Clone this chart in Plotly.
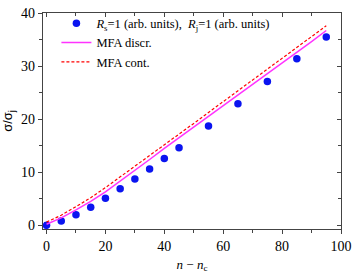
import plotly.graph_objects as go

# data
x_pts = [0, 5, 10, 15, 20, 25, 30, 35, 40, 45, 55, 65, 75, 85, 95]
y_pts = [0.0, 0.8, 2.0, 3.4, 5.1, 6.9, 8.7, 10.6, 12.6, 14.6, 18.7, 22.9, 27.1, 31.4, 35.5]

x_line = [0, 5, 10, 15, 20, 25, 30, 35, 40, 50, 60, 70, 80, 90, 95]
y_discr = [0.2, 1.4, 2.9, 4.5, 6.3, 8.3, 10.3, 12.4, 14.5, 18.5, 22.6, 26.6, 30.6, 34.6, 36.7]
y_cont = [0.6, 1.9, 3.5, 5.2, 7.1, 9.1, 11.1, 13.1, 15.2, 19.2, 23.3, 27.4, 31.4, 35.5, 37.6]

x_ticks = [0, 20, 40, 60, 80, 100]
y_ticks = [0, 10, 20, 30, 40]

serif = "Liberation Serif"
axis_col = "#444444"

fig = go.Figure()
fig.add_trace(go.Scatter(
    x=x_pts, y=y_pts, mode="markers",
    marker=dict(color="#0a14f0", size=7.5),
    name="<i>R</i><sub>s</sub>=1 (arb. units),  <i>R</i><sub>j</sub>=1 (arb. units)"))
fig.add_trace(go.Scatter(
    x=x_line, y=y_discr, mode="lines", line=dict(color="#ff33ff", width=1.5),
    name="MFA discr."))
fig.add_trace(go.Scatter(
    x=x_line, y=y_cont, mode="lines", line=dict(color="#ff0000", width=1.2, dash="3px,2px"),
    name="MFA cont."))
# invisible trace to anchor mirrored axes
fig.add_trace(go.Scatter(x=[50], y=[20], xaxis="x2", yaxis="y2", mode="markers",
                         marker=dict(opacity=0), showlegend=False, hoverinfo="skip"))

common = dict(showgrid=False, zeroline=False, showline=True, linecolor=axis_col, linewidth=1.3,
              tickcolor=axis_col, ticklen=4, tickwidth=1, automargin=False,
              tickfont=dict(family=serif, size=14, color="black"))
fig.update_layout(
    template="none",
    width=353, height=276,
    margin=dict(l=43, r=12, t=9, b=47),
    paper_bgcolor="white", plot_bgcolor="white",
    font=dict(family=serif, size=13, color="black"),
    showlegend=True,
    legend=dict(x=0.045, y=1.02, xanchor="left", yanchor="top", bgcolor="rgba(0,0,0,0)",
                font=dict(family=serif, size=12.5, color="black"), itemwidth=30, tracegroupgap=0),
    xaxis=dict(range=[-1.2, 100], tickvals=x_ticks, ticks="outside",
               minor=dict(dtick=10, ticks="outside", ticklen=2.5, tickcolor=axis_col),
               title=dict(text="<i>n</i> − <i>n</i><sub>c</sub>", standoff=6,
                          font=dict(family=serif, size=13, color="black")),
               **common),
    yaxis=dict(range=[-0.7, 40], tickvals=y_ticks, ticks="outside",
               minor=dict(dtick=5, ticks="outside", ticklen=2.5, tickcolor=axis_col),
               title=dict(text="σ/σ<sub>j</sub>", standoff=6,
                          font=dict(family="Liberation Sans", size=13, color="black")),
               **common),
    xaxis2=dict(range=[-1.2, 100], overlaying="x", side="top", anchor="y",
                tickvals=x_ticks, ticks="inside", showticklabels=False,
                minor=dict(dtick=10, ticks="inside", ticklen=2.5, tickcolor=axis_col),
                **common),
    yaxis2=dict(range=[-0.7, 40], overlaying="y", side="right", anchor="x",
                tickvals=y_ticks, ticks="inside", showticklabels=False,
                minor=dict(dtick=5, ticks="inside", ticklen=2.5, tickcolor=axis_col),
                **common),
)

fig.write_html("out.html", config={"displayModeBar": False},
               post_script="document.body.style.margin='0';")
